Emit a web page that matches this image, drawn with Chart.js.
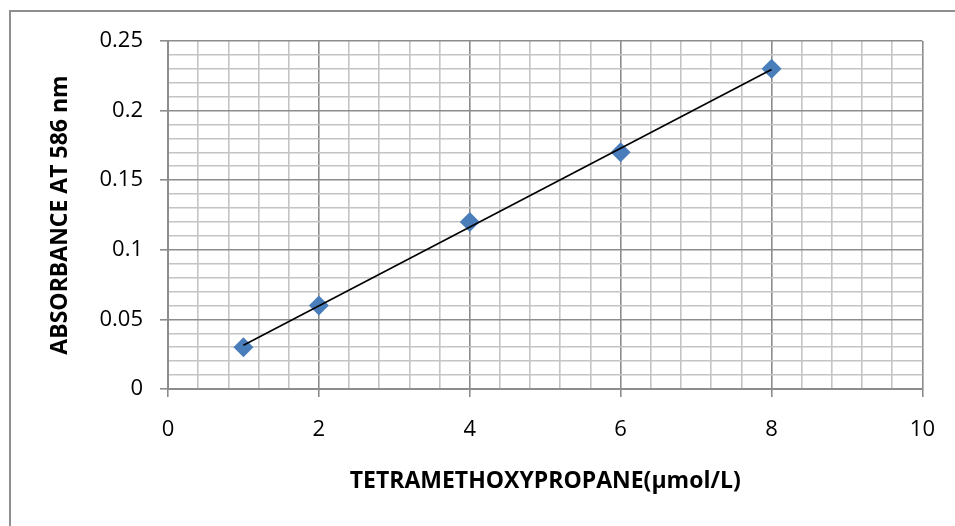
<!DOCTYPE html>
<html>
<head>
<meta charset="utf-8">
<script src="https://cdn.jsdelivr.net/npm/chart.js@4/dist/chart.umd.min.js"></script>
<style>
  body { margin: 0; background: #fff; }
  #wrap { width: 955px; height: 526px; position: relative; }
</style>
</head>
<body>
<div id="wrap"><canvas id="tmpChart" width="955" height="526"></canvas></div>
<script>
const concentration = [1, 2, 4, 6, 8]
const absorbance = [0.03, 0.06, 0.12, 0.17, 0.23]

const xTitle = 'TETRAMETHOXYPROPANE(\u00b5mol/L)'
const yTitle = 'ABSORBANCE AT 586 nm'

// least squares line through the standards, drawn from first to last x
const fitLine = () => {
    const n = concentration.length
    const mx = concentration.reduce((a, b) => a + b, 0) / n
    const my = absorbance.reduce((a, b) => a + b, 0) / n
    let sxy = 0, sxx = 0
    for (let i = 0; i < n; i++) {
        sxy += (concentration[i] - mx) * (absorbance[i] - my)
        sxx += (concentration[i] - mx) ** 2
    }
    const slope = sxy / sxx
    const icpt = my - slope * mx
    const x0 = concentration[0], x1 = concentration[n - 1]
    return [{x: x0, y: icpt + slope * x0}, {x: x1, y: icpt + slope * x1}]
}

const majorColor = '#8c8c8c'
const minorColor = '#c4c4c4'
const tickFont = {family: "'Open Sans', sans-serif", size: 22}
const titleFont = {family: "'Open Sans', sans-serif", size: 23, weight: 'bold'}

// outer frame of the chart object
const framePlugin = {
    id: 'frame',
    beforeDraw(chart) {
        const ctx = chart.ctx
        ctx.save()
        ctx.strokeStyle = '#8f8f8f'
        ctx.lineWidth = 2
        ctx.beginPath()
        ctx.moveTo(10, 600)
        ctx.lineTo(10, 11)
        ctx.lineTo(1000, 11)
        ctx.stroke()
        ctx.restore()
    }
}

const data = {
    datasets: [{
        type: 'scatter',
        data: concentration.map((x, i) => ({x: x, y: absorbance[i]})),
        pointStyle: 'rectRot',
        pointRadius: 10,
        pointHoverRadius: 10,
        backgroundColor: '#4a7ebb',
        borderColor: '#4a7ebb',
        borderWidth: 0,
        order: 2
    },
    {
        type: 'line',
        data: fitLine(),
        borderColor: '#000',
        borderWidth: 1.6,
        pointRadius: 0,
        fill: false,
        order: 1
    }]
}

const config = {
    data: data,
    options: {
        responsive: false,
        animation: false,
        layout: {padding: {top: 41, right: 29, left: 0, bottom: 0}},
        plugins: {legend: {display: false}, tooltip: {enabled: false}},
        scales: {
            x: {
                type: 'linear',
                min: 0, max: 10,
                afterFit: (s) => { s.height = 137 },
                afterBuildTicks: (s) => {
                    s.ticks = []
                    for (let i = 0; i <= 25; i++) s.ticks.push({value: i * 0.4})
                },
                ticks: {
                    font: tickFont, color: '#000', padding: 20, maxRotation: 0, autoSkip: false,
                    callback: (v, i) => i % 5 === 0 ? String(Math.round(v)) : ''
                },
                grid: {
                    color: (c) => c.index % 5 === 0 ? majorColor : minorColor,
                    lineWidth: 1.6,
                    tickColor: (c) => c.index % 5 === 0 ? majorColor : 'rgba(0,0,0,0)',
                    tickLength: 8
                },
                border: {color: majorColor, width: 2},
                title: {display: true, text: xTitle, font: titleFont, color: '#000', padding: {top: 0, bottom: 31}}
            },
            y: {
                type: 'linear',
                min: 0, max: 0.25,
                afterFit: (s) => { s.width = 168 },
                afterBuildTicks: (s) => {
                    s.ticks = []
                    for (let i = 0; i <= 25; i++) s.ticks.push({value: i * 0.01})
                },
                ticks: {
                    font: tickFont, color: '#000', padding: 17, autoSkip: false,
                    callback: (v, i) => i % 5 === 0 ? String(parseFloat(v.toFixed(2))) : ''
                },
                grid: {
                    color: (c) => c.index % 5 === 0 ? majorColor : minorColor,
                    lineWidth: 1.6,
                    tickColor: (c) => c.index % 5 === 0 ? majorColor : 'rgba(0,0,0,0)',
                    tickLength: 8
                },
                border: {color: majorColor, width: 2},
                title: {display: true, text: yTitle, font: titleFont, color: '#000', padding: {top: 47, bottom: 0}}
            }
        }
    },
    plugins: [framePlugin]
}

const tmpChart = new Chart(document.getElementById('tmpChart'), config)
</script>
</body>
</html>
